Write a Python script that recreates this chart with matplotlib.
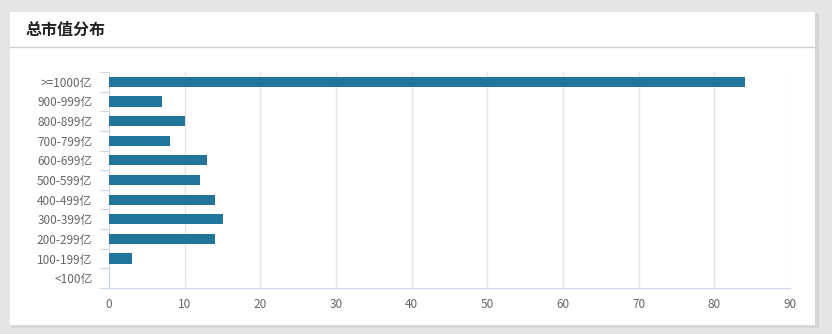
import matplotlib
matplotlib.use("Agg")
import matplotlib.pyplot as plt
from matplotlib.patches import Rectangle
from matplotlib.lines import Line2D
import numpy as np

plt.rcParams['font.family'] = ['Noto Sans CJK SC', 'DejaVu Sans']

# Data
categories = [">=1000亿", "900-999亿", "800-899亿", "700-799亿", "600-699亿",
              "500-599亿", "400-499亿", "300-399亿", "200-299亿", "100-199亿", "<100亿"]
counts = [84, 7, 10, 8, 13, 12, 14, 15, 14, 3, 0]
x_ticks = [0, 10, 20, 30, 40, 50, 60, 70, 80, 90]

W, H = 832, 334
fig = plt.figure(figsize=(W / 100, H / 100), dpi=100)
fig.patch.set_facecolor("#e6e6e6")

def fx(px):
    return px / W

def fy(py):
    return 1 - py / H

# card with soft shadow
fig.patches.append(Rectangle((fx(11), fy(328)), fx(819) - fx(11), fy(13) - fy(328),
                             transform=fig.transFigure, facecolor="#d6d6d6",
                             edgecolor="none", zorder=-2))
fig.patches.append(Rectangle((fx(10), fy(325)), fx(815) - fx(10), fy(12) - fy(325),
                             transform=fig.transFigure, facecolor="white",
                             edgecolor="none", zorder=-1))
fig.lines.append(Line2D([fx(10), fx(815)], [fy(46.5), fy(46.5)],
                        transform=fig.transFigure, color="#cfcfcf", lw=1))
fig.text(fx(26), fy(30), "总市值分布", fontsize=11.5, fontweight="bold",
         color="#222222", va="center", ha="left")

ax = fig.add_axes([fx(109), fy(288), fx(790) - fx(109), fy(72) - fy(288)])
ax.set_facecolor("none")
ax.set_zorder(2)

y = np.arange(len(categories))
ax.barh(y, counts, height=0.52, color="#21759b", zorder=3)

ax.set_xlim(0, 90)
ax.set_ylim(len(categories) - 0.5, -0.5)
ax.set_xticks(x_ticks)
ax.set_yticks(y)
ax.set_yticklabels(categories)
ax.set_yticks(np.arange(-0.5, len(categories), 1), minor=True)

ax.grid(axis="x", color="#e6e6e6", lw=1, zorder=0)
ax.tick_params(axis="y", which="major", length=0, pad=12, labelsize=8.5, labelcolor="#666666")
ax.tick_params(axis="y", which="minor", length=6.5, width=0.8, color="#ccd6eb")
ax.tick_params(axis="x", length=0, pad=7, labelsize=8.5, labelcolor="#666666")

for s in ["top", "right"]:
    ax.spines[s].set_visible(False)
ax.spines["left"].set_color("#ccd6eb")
ax.spines["bottom"].set_color("#ccd6eb")

fig.savefig("out.png", dpi=100, facecolor=fig.get_facecolor())
